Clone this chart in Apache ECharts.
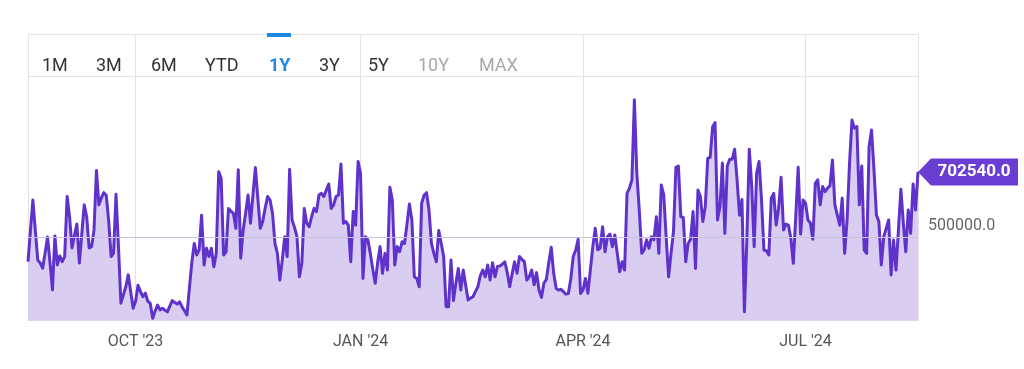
<!DOCTYPE html>
<html><head><meta charset="utf-8">
<script src="https://cdn.jsdelivr.net/npm/echarts@6/dist/echarts.min.js"></script>
<style>html,body{margin:0;padding:0;background:#fff;}#c{width:1024px;height:369px;}</style>
</head><body><div id="c"></div>
<script>
// Daily values, 2023-08-18 .. 2024-08-16
const q3_2023 = [423000,520000,615000,520000,428000,419000,403000,450000,500000,420000,335000,503000,413000,441000,423000,439000,626000,563000,466000,505000,540000,419000,510000,600000,563000,466000,470000,522000,707000,600000,622000,638000,630000,550000,439000,450000,633000,470000,294000,320000,345000,382000,330000,278000];
const q4_2023 = [300000,350000,330000,314000,325000,300000,293000,247000,270000,288000,273000,278000,272000,267000,285000,302000,296000,291000,298000,283000,270000,257000,340000,420000,480000,444000,460000,568000,413000,465000,439000,465000,407000,449000,703000,683000,444000,454000,589000,580000,574000,527000,709000,434000,522000,574000,631000,543000,630000,716000,620000,527000,548000,590000,626000,615000,574000,480000,449000,366000,428000,501000,439000,711000,553000,530000,501000,376000,418000,589000,543000,532000,563000,589000,579000,631000,636000,626000,646000,665000,589000,600000,626000,631000,727000,543000,548000,537000,423000,579000,537000,735000];
const q1_2024 = [698000,371000,501000,491000,449000,400000,356000,420000,470000,387000,449000,397000,655000,615000,413000,470000,454000,485000,480000,540000,603000,553000,376000,371000,345000,605000,630000,638000,584000,480000,449000,423000,520000,480000,439000,283000,283000,428000,302000,356000,402000,335000,397000,350000,304000,310000,314000,330000,345000,380000,397000,376000,413000,366000,420000,376000,408000,410000,415000,423000,390000,345000,385000,423000,387000,439000,430000,423000,366000,376000,397000,351000,389000,335000,312000,356000,368000,420000,468000,387000,340000,335000,337000,330000,322000,324000,370000,439000,459000,493000,324000];
const q2_2024 = [335000,371000,325000,397000,470000,527000,460000,465000,532000,454000,501000,509000,470000,506000,449000,392000,423000,397000,636000,652000,678000,927000,698000,584000,449000,460000,491000,465000,501000,491000,563000,449000,662000,631000,500000,376000,450000,517000,717000,721000,563000,561000,423000,480000,493000,579000,402000,646000,626000,548000,594000,745000,748000,843000,856000,553000,594000,730000,511000,721000,742000,742000,773000,678000,568000,617000,267000,491000,773000,657000,470000,698000,735000,615000,459000,457000,444000,621000,636000,537000,589000,686000,522000,540000,537000,496000,418000,563000,717000,509000,615000];
const q3_2024 = [605000,553000,543000,493000,667000,678000,600000,657000,641000,652000,659000,740000,600000,568000,537000,621000,449000,553000,730000,864000,839000,844000,600000,721000,459000,449000,781000,833000,709000,568000,548000,413000,501000,527000,553000,382000,491000,397000,522000,649000,543000,454000,584000,511000,665000,584000,702540];
const values = [].concat(q3_2023, q4_2023, q1_2024, q2_2024, q3_2024);

const startDate = '2023-08-18';
const dates = [];
(function () {
  let t = Date.parse(startDate + 'T00:00:00Z');
  for (let i = 0; i < values.length; i++) { dates.push(new Date(t).toISOString().slice(0, 10)); t += 86400000; }
})();

const quarterNames = { '01': 'JAN', '04': 'APR', '07': 'JUL', '10': 'OCT' };
const gridValue = 500000;
const rangeButtons = ['1M', '3M', '6M', 'YTD', '1Y', '3Y', '5Y', '10Y', 'MAX'];
const activeButton = '1Y';
const disabledButtons = ['10Y', 'MAX'];
const buttonX = [42, 96, 151, 205, 269, 319, 368, 418, 479];

function isQuarter(v) { return v.slice(8) === '01' && !!quarterNames[v.slice(5, 7)]; }

const graphics = [
  { type: 'line', shape: { x1: 28, y1: 34.5, x2: 918, y2: 34.5 }, style: { stroke: '#e3e3e3', lineWidth: 1 }, z: 1 },
  { type: 'line', shape: { x1: 28, y1: 76.5, x2: 918, y2: 76.5 }, style: { stroke: '#e3e3e3', lineWidth: 1 }, z: 1 },
  { type: 'rect', shape: { x: 267, y: 33, width: 24, height: 4 }, style: { fill: '#1e88e5' }, z: 5 }
];
rangeButtons.forEach(function (b, i) {
  graphics.push({
    type: 'text', x: buttonX[i], y: 66, z: 5,
    style: {
      text: b, fontFamily: 'Roboto', fontSize: 18,
      fontWeight: b === activeButton ? 'bold' : 'normal',
      fill: b === activeButton ? '#1e88e5' : (disabledButtons.indexOf(b) >= 0 ? '#a8a8a8' : '#333'),
      verticalAlign: 'middle', align: 'left'
    }
  });
});

const chart = echarts.init(document.getElementById('c'));
chart.setOption({
  animation: false,
  backgroundColor: '#fff',
  grid: { left: 28, right: 106, top: 34, bottom: 48.5, containLabel: false, outerBoundsMode: 'none' },
  xAxis: {
    type: 'category', data: dates, boundaryGap: false,
    axisLine: { show: true, lineStyle: { color: '#e3e3e3' } },
    axisTick: { show: false },
    axisLabel: {
      interval: function (i, v) { return isQuarter(v); },
      formatter: function (v) { return quarterNames[v.slice(5, 7)] + " '" + v.slice(2, 4); },
      color: '#555', fontSize: 16, fontFamily: 'Roboto', margin: 13
    },
    splitLine: {
      show: true,
      interval: function (i, v) { return i === 0 || i === dates.length - 1 || isQuarter(v); },
      lineStyle: { color: '#e3e3e3', width: 1 }
    }
  },
  yAxis: {
    type: 'value', position: 'right', min: 240000, max: 1132000, interval: 20000,
    axisLine: { show: false }, axisTick: { show: false }, splitLine: { show: false },
    axisLabel: {
      formatter: function (v) { return v === gridValue ? gridValue.toFixed(1) : ''; },
      color: '#666', fontSize: 16, fontFamily: 'Roboto', margin: 10,
      verticalAlign: 'bottom', padding: [0, 0, 3, 0]
    }
  },
  series: [{
    type: 'line', data: values, symbol: 'none', showSymbol: false,
    lineStyle: { color: '#5f33cb', width: 3, join: 'round' },
    itemStyle: { color: '#5f33cb' },
    areaStyle: { color: '#d9cef1', opacity: 1 },
    markLine: {
      silent: true, symbol: 'none', label: { show: false },
      lineStyle: { color: '#c9c2dc', type: 'solid', width: 1 },
      data: [{ yAxis: gridValue }]
    },
    markPoint: {
      silent: true,
      symbol: 'path://M0,13.5 L13,0 L100,0 L100,27 L13,27 Z',
      symbolSize: [100, 27], symbolKeepAspect: false, symbolOffset: [50, 0],
      itemStyle: { color: '#6a3dd3' },
      label: {
        show: true, position: 'inside', offset: [6, 0], color: '#fff',
        fontWeight: 'bold', fontSize: 17, fontFamily: 'Roboto',
        formatter: function (p) { return Number(p.value).toFixed(1); }
      },
      data: [{ coord: [dates[dates.length - 1], values[values.length - 1]], value: values[values.length - 1] }]
    }
  }],
  graphic: graphics
});
</script></body></html>
